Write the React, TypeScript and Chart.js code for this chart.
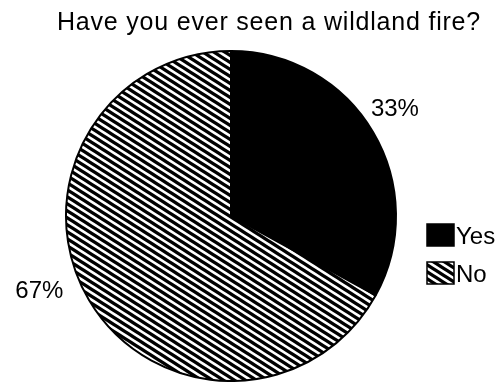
import { useEffect, useRef } from "react";
import { Chart, registerables } from "chart.js";

Chart.register(...registerables);

// ---- data ----
const TITLE = "Have you ever seen a wildland fire?";
const categories = ["Yes", "No"];
const shares = [33, 67];
const valueLabels = ["33%", "67%"];

// ---- styles ----
const FONT = '"Liberation Sans", Arial, Helvetica, sans-serif';
const W = 499;
const H = 382;
// label placement around the pie: angle (deg, canvas convention) and distance as a multiple of the radius
const LABEL_ANGLE = [-33.4, 158.9];
const LABEL_DIST = [1.19, 1.245];
const LEGEND_X = 427;
const LEGEND_Y = [235, 273];
const BOX_W = 27;
const BOX_H = 22;

function makeHatch(ctx: CanvasRenderingContext2D): CanvasPattern | string {
  const tile = document.createElement("canvas");
  tile.width = 11;
  tile.height = 7;
  const c = tile.getContext("2d");
  if (!c) return "#777";
  c.fillStyle = "#fff";
  c.fillRect(0, 0, 11, 7);
  c.strokeStyle = "#000";
  c.lineWidth = 3.2;
  for (let k = -3; k <= 3; k++) {
    c.beginPath();
    c.moveTo(-11, -7 + k * 7);
    c.lineTo(22, 14 + k * 7);
    c.stroke();
  }
  return ctx.createPattern(tile, "repeat") ?? "#777";
}

const annotate = {
  id: "annotate",
  afterDraw(chart: any) {
    const ctx: CanvasRenderingContext2D = chart.ctx;
    const meta = chart.getDatasetMeta(0);
    const bg = chart.data.datasets[0].backgroundColor as any[];
    ctx.save();
    ctx.fillStyle = "#000";
    // title
    ctx.font = `25px ${FONT}`;
    (ctx as any).letterSpacing = "0.8px";
    ctx.textAlign = "center";
    ctx.textBaseline = "alphabetic";
    ctx.fillText(TITLE, 269, 30);
    (ctx as any).letterSpacing = "0px";

    // value labels
    ctx.font = `24px ${FONT}`;
    meta.data.forEach((arc: any, i: number) => {
      const { x, y, outerRadius } = arc.getProps(["x", "y", "outerRadius"], true);
      const a = (LABEL_ANGLE[i] * Math.PI) / 180;
      const lx = x + Math.cos(a) * outerRadius * LABEL_DIST[i];
      const ly = y + Math.sin(a) * outerRadius * LABEL_DIST[i];
      ctx.fillStyle = "#000";
      ctx.fillText(valueLabels[i], lx, ly + 8.5);
    });

    // legend
    ctx.textAlign = "left";
    chart.data.labels.forEach((lab: string, i: number) => {
      const cy = LEGEND_Y[i];
      ctx.fillStyle = bg[i];
      ctx.fillRect(LEGEND_X, cy - BOX_H / 2, BOX_W, BOX_H);
      ctx.strokeStyle = "#000";
      ctx.lineWidth = 1.5;
      ctx.strokeRect(LEGEND_X, cy - BOX_H / 2, BOX_W, BOX_H);
      ctx.fillStyle = "#000";
      ctx.fillText(lab, LEGEND_X + BOX_W + 2, cy + 8.5);
    });
    ctx.restore();
  },
};

export default function App() {
  const ref = useRef<HTMLCanvasElement | null>(null);

  useEffect(() => {
    const canvas = ref.current;
    if (!canvas) return;
    const ctx = canvas.getContext("2d");
    if (!ctx) return;
    const hatch = makeHatch(ctx);
    const chart = new Chart(ctx, {
      type: "pie",
      data: {
        labels: categories,
        datasets: [
          {
            data: shares,
            backgroundColor: ["#000000", hatch as any],
            borderColor: "#000000",
            borderWidth: 2,
          },
        ],
      },
      options: {
        responsive: false,
        animation: false,
        events: [],
        layout: { padding: { top: 50, left: 65, right: 102, bottom: 0 } },
        plugins: {
          legend: { display: false },
          title: { display: false },
          tooltip: { enabled: false },
        },
      },
      plugins: [annotate],
    });
    return () => chart.destroy();
  }, []);

  return (
    <div style={{ position: "absolute", left: 0, top: 0, width: W, height: H, background: "#fff" }}>
      <canvas ref={ref} width={W} height={H} style={{ display: "block", width: W, height: H }} />
    </div>
  );
}
